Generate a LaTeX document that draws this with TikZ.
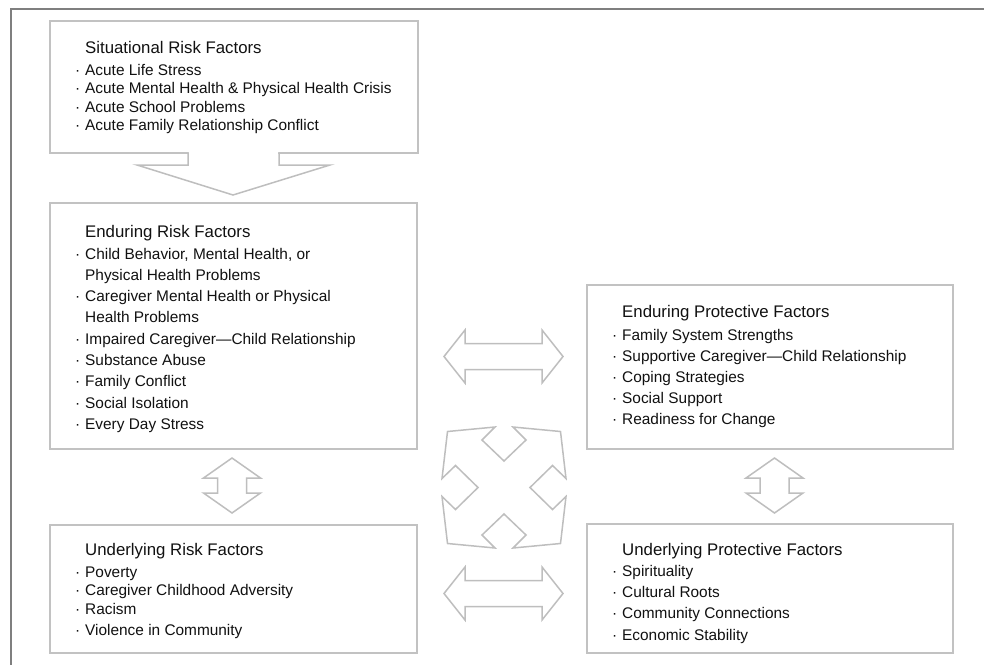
\documentclass[tikz,border=0pt]{standalone}
\usepackage{fontspec}
\setmainfont{Liberation Sans}
\usetikzlibrary{calc}

\definecolor{framegray}{HTML}{7F7F7F}
\definecolor{boxgray}{HTML}{C2C2C2}
\definecolor{arrowgray}{HTML}{BEBEBE}
\definecolor{ink}{HTML}{111111}

% one bullet item, a wrapped continuation line, and a box heading
\newcommand\bul[1]{\makebox[10pt][l]{·}#1\par}
\newcommand\cont[1]{\hspace*{10pt}#1\par}
\newcommand\ttl[1]{{\fontsize{16.8}{20}\selectfont\hspace*{10pt}#1\par}}
\newcommand\itemfont[1]{\fontsize{15.4}{#1}\selectfont}

\begin{document}
\begin{tikzpicture}[x=1pt,y=-1pt,
  factorbox/.style={draw=boxgray, line width=1.8pt, fill=white, rectangle,
    inner sep=0pt, outer sep=0pt, anchor=north west},
  factortext/.style={anchor=base west, inner sep=0pt, text=ink},
  blockarrow/.style={draw=arrowgray, line width=1.5pt, line join=miter, fill=white},
  pics/hdouble/.style={code={
    \draw[blockarrow] (-59.5,0) -- (-38.5,-26.5) -- (-38.5,-13) -- (38.5,-13)
      -- (38.5,-26.5) -- (59.5,0) -- (38.5,26.5) -- (38.5,13) -- (-38.5,13)
      -- (-38.5,26.5) -- cycle;}},
  pics/vdouble/.style={code={
    \draw[blockarrow] (0,-27.5) -- (28.5,-7.5) -- (14.5,-7.5) -- (14.5,7.5)
      -- (28.5,7.5) -- (0,27.5) -- (-28.5,7.5) -- (-14.5,7.5) -- (-14.5,-7.5)
      -- (-28.5,-7.5) -- cycle;}},
  pics/quadin/.style={code={
    \draw[blockarrow] (-56.5,-56) -- (-9,-60.5) -- (-22,-47.5) -- (0,-26.5)
      -- (22,-47.5) -- (9,-60.5) -- (56.5,-56) -- (62,-9) -- (48.5,-22)
      -- (26,0) -- (48.5,22) -- (62,9) -- (56.5,56) -- (9,60.5) -- (22,47.5)
      -- (0,26.5) -- (-22,47.5) -- (-9,60.5) -- (-56.5,56) -- (-62,9)
      -- (-48.5,22) -- (-26,0) -- (-48.5,-22) -- (-62,-9) -- cycle;}}
]
\useasboundingbox (0,0) rectangle (984,664);
\clip (0,0) rectangle (984,664);

% outer frame (runs off the right and bottom edges)
\draw[framegray, line width=2pt] (11,9) rectangle (1100,800);

% factor boxes
\node[factorbox, minimum width=368pt, minimum height=132pt] (sit) at (50,21) {};
\node[factorbox, minimum width=367pt, minimum height=246pt] (enr) at (50,203) {};
\node[factorbox, minimum width=367pt, minimum height=128pt] (unr) at (50,525) {};
\node[factorbox, minimum width=366pt, minimum height=164pt] (enp) at (587,285) {};
\node[factorbox, minimum width=366pt, minimum height=129pt] (unp) at (587,524) {};

% situational -> enduring arrow, merged into the box above
\begin{scope}[shift={(sit.south)}]
  \fill[white] (-45.2,-1.2) -- (-45.2,12) -- (-97,12) -- (-1,42) -- (96,12)
    -- (44.2,12) -- (44.2,-1.2) -- cycle;
  \draw[draw=arrowgray, line width=1.5pt, line join=miter] (-46,0) -- (-46,12)
    -- (-97,12) -- (-1,42) -- (96,12) -- (45,12) -- (45,0);
\end{scope}

% links between the risk and protective factor boxes
\pic at (232,485.5) {vdouble};
\pic at (774.5,485.5) {vdouble};
\pic at (503.5,356.5) {hdouble};
\pic at (503.5,593.5) {hdouble};
\pic at (504,487.5) {quadin};

% box contents
\node[factortext] (sittext) at ($(sit.north west)+(25,32)$) {\begin{minipage}[t]{340pt}
\ttl{Situational Risk Factors}
\itemfont{22}\bul{Acute Life Stress}
\itemfont{18.5}\bul{Acute Mental Health \& Physical Health Crisis}
\bul{Acute School Problems}
\bul{Acute Family Relationship Conflict}
\end{minipage}};

\node[factortext] (enrtext) at ($(enr.north west)+(25,34)$) {\begin{minipage}[t]{340pt}
\ttl{Enduring Risk Factors}
\itemfont{22}\bul{Child Behavior, Mental Health, or}
\itemfont{21.3}\cont{Physical Health Problems}
\bul{Caregiver Mental Health or Physical}
\cont{Health Problems}
\bul{Impaired Caregiver—Child Relationship}
\bul{Substance Abuse}
\bul{Family Conflict}
\bul{Social Isolation}
\bul{Every Day Stress}
\end{minipage}};

\node[factortext] (unrtext) at ($(unr.north west)+(25,30.5)$) {\begin{minipage}[t]{340pt}
\ttl{Underlying Risk Factors}
\itemfont{21.5}\bul{Poverty}
\itemfont{18.5}\bul{Caregiver Childhood Adversity}
\bul{Racism}
\itemfont{21.5}\bul{Violence in Community}
\end{minipage}};

\node[factortext] (enptext) at ($(enp.north west)+(25,32)$) {\begin{minipage}[t]{340pt}
\ttl{Enduring Protective Factors}
\itemfont{23}\bul{Family System Strengths}
\itemfont{21.1}\bul{Supportive Caregiver—Child Relationship}
\bul{Coping Strategies}
\bul{Social Support}
\bul{Readiness for Change}
\end{minipage}};

\node[factortext] (unptext) at ($(unp.north west)+(25,31)$) {\begin{minipage}[t]{340pt}
\ttl{Underlying Protective Factors}
\itemfont{21.5}\bul{Spirituality}
\itemfont{21.2}\bul{Cultural Roots}
\bul{Community Connections}
\bul{Economic Stability}
\end{minipage}};
\end{tikzpicture}
\end{document}
